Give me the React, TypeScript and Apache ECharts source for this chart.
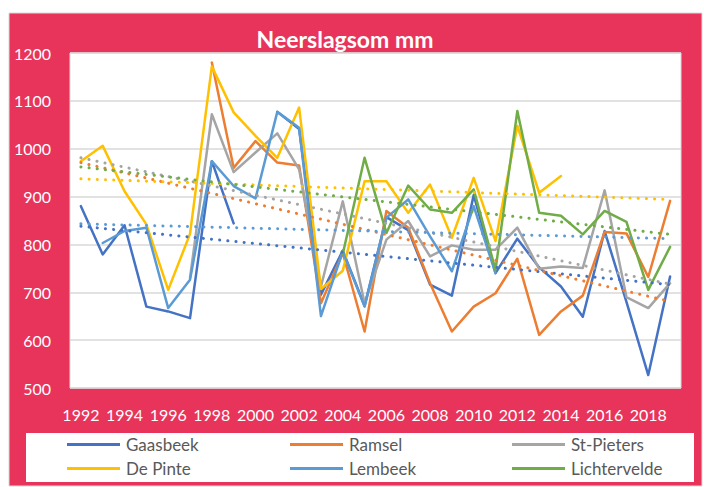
import React, { useEffect, useRef } from "react";
import * as echarts from "echarts";

const years = [
  "1992","1993","1994","1995","1996","1997","1998","1999","2000","2001",
  "2002","2003","2004","2005","2006","2007","2008","2009","2010","2011",
  "2012","2013","2014","2015","2016","2017","2018","2019",
];

const seriesNames = ["Gaasbeek", "Ramsel", "St-Pieters", "De Pinte", "Lembeek", "Lichtervelde"];
const seriesColors = ["#4472C4", "#ED7D31", "#A5A5A5", "#FFC000", "#5B9BD5", "#70AD47"];

const gaasbeek = [880, 779, 840, 670, 660, 646, 974, 844, null, 1077, 1041, 695, 787, 672, 857, 830, 716, 693, 903, 740, 812, 752, 712, 649, 828, 680, 527, 733];
const ramsel = [null, null, null, null, null, null, 1180, 960, 1016, 971, 965, 677, 782, 618, 870, 835, 719, 618, 670, 698, 770, 611, 660, 693, 826, 823, 732, 891];
const stPieters = [null, null, null, null, null, 730, 1072, 951, 992, 1032, 957, 712, 890, 677, 810, 849, 775, 798, 789, 789, 835, 749, 754, 751, 913, 690, 667, 719];
const dePinte = [974, 1006, 911, 842, 705, 822, 1172, 1076, 1027, 981, 1086, 707, 745, 932, 932, 866, 925, 814, 939, 807, 1048, 908, 943, null, null, null, null, null];
const lembeek = [null, 803, 828, 835, 667, 726, 974, 922, 896, 1077, 1044, 650, 785, 670, 856, 894, 817, 744, 880, 740, null, null, null, null, null, null, null, null];
const lichtervelde = [null, null, null, null, null, null, null, null, null, null, null, null, 780, 981, 824, 923, 873, 866, 915, 747, 1079, 866, 860, 821, 870, 847, 705, 795];

// linear trend line end values (1992 and 2019)
const trendFirst = [838, 971, 981, 937, 843, 962];
const trendLast = [716, 681, 717, 894, 812, 821];

const allData = [gaasbeek, ramsel, stPieters, dePinte, lembeek, lichtervelde];

const FONT = "Lato";

export default function App() {
  const ref = useRef<HTMLDivElement>(null);

  useEffect(() => {
    if (!ref.current) return;
    const chart = echarts.init(ref.current, undefined, { renderer: "svg" });

    const lineSeries = allData.map((d, i) => ({
      name: seriesNames[i],
      type: "line",
      data: d,
      symbol: "none",
      connectNulls: false,
      lineStyle: { color: seriesColors[i], width: 2.5, cap: "round", join: "round" },
      itemStyle: { color: seriesColors[i] },
      z: 2,
    }));

    const trendSeries = allData.map((_, i) => ({
      name: seriesNames[i] + " trend",
      type: "line",
      data: years.map((_, k) => (k === 0 ? trendFirst[i] : k === years.length - 1 ? trendLast[i] : null)),
      symbol: "none",
      connectNulls: true,
      silent: true,
      lineStyle: { color: seriesColors[i], width: 3, type: [0.1, 8.1], cap: "round" },
      z: 3,
    }));

    const legendLeft = [67, 290, 512];
    const legendTop = [436, 460];
    const legends = seriesNames.map((n, i) => ({
      left: legendLeft[i % 3],
      top: legendTop[Math.floor(i / 3)],
      padding: 0,
      itemWidth: 53,
      itemHeight: 3,
      itemGap: 0,
      icon: "rect",
      textStyle: { color: "#595959", fontSize: 17, fontFamily: FONT, padding: [0, 0, 0, 1] },
      selectedMode: false,
      data: [n],
    }));

    chart.setOption({
      animation: false,
      backgroundColor: "#ffffff",
      title: {
        text: "Neerslagsom mm",
        left: 340,
        top: 22,
        textAlign: "center",
        textStyle: { color: "#ffffff", fontSize: 23, fontWeight: "bold", fontFamily: FONT },
      },
      graphic: [
        {
          type: "rect",
          shape: { x: 9, y: 13, width: 693, height: 473 },
          style: { fill: "#E8345A", stroke: "#d9d9d9", lineWidth: 1 },
          z: -10,
        },
        {
          type: "rect",
          shape: { x: 26, y: 433, width: 668, height: 49 },
          style: { fill: "#ffffff" },
          z: -9,
        },
      ],
      legend: legends,
      grid: {
        left: 70,
        top: 53,
        right: 23,
        bottom: 99,
        show: true,
        backgroundColor: "#ffffff",
        borderColor: "#d9d9d9",
        borderWidth: 1,
      },
      xAxis: {
        type: "category",
        data: years,
        boundaryGap: true,
        axisLine: { show: false },
        axisTick: { show: false },
        axisLabel: { color: "#ffffff", fontSize: 16, fontFamily: FONT, interval: 1, margin: 18 },
      },
      yAxis: {
        type: "value",
        min: 500,
        max: 1200,
        interval: 100,
        axisLine: { show: false },
        axisTick: { show: false },
        splitLine: { lineStyle: { color: "#d9d9d9", width: 1.5 } },
        axisLabel: {
          color: "#ffffff",
          fontSize: 16,
          fontFamily: FONT,
          margin: 19,
          formatter: (v: number) => String(v),
        },
      },
      series: [...lineSeries, ...trendSeries],
    });

    return () => chart.dispose();
  }, []);

  return <div ref={ref} style={{ position: "fixed", left: 0, top: 0, width: 704, height: 487 }} />;
}
